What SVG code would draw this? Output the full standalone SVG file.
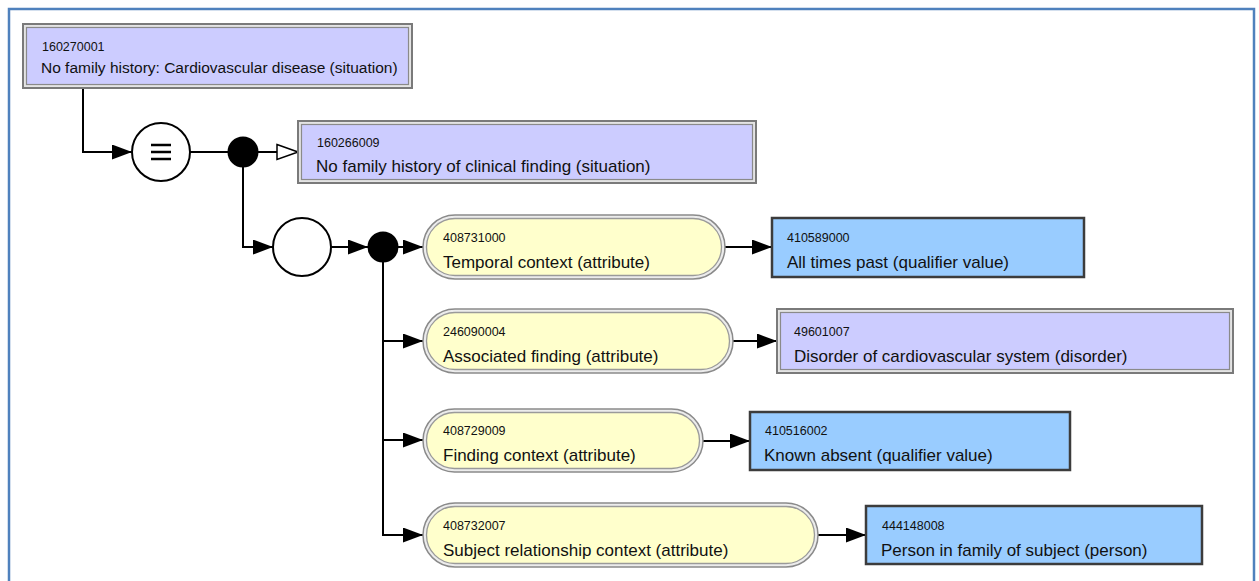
<svg xmlns="http://www.w3.org/2000/svg" width="1259" height="581" viewBox="0 0 1259 581">
<defs>
<style>
.num{font-family:"Liberation Sans",Arial,sans-serif;font-size:12.5px;fill:#111}
.nm{font-family:"Liberation Sans",Arial,sans-serif;font-size:17px;fill:#111}
.con{fill:none;stroke:#000;stroke-width:2}
.defo{fill:#e4e4e4;stroke:#7a7a7a;stroke-width:2}
.defi{fill:#ccccff;stroke:#8a8a8a;stroke-width:1.2}
.prim{fill:#99ccff;stroke:#3c3c3c;stroke-width:2.5}
.pillo{fill:#ececec;stroke:#8a8a8a;stroke-width:1.5}
.pilli{fill:#ffffcc;stroke:#9a9a9a;stroke-width:1.3}
</style>
<marker id="arr" markerUnits="userSpaceOnUse" markerWidth="20" markerHeight="15" refX="20" refY="7.5" orient="auto">
<path d="M0,0 L20,7.5 L0,15 z" fill="#000"/>
</marker>
<marker id="isa" markerUnits="userSpaceOnUse" markerWidth="23" markerHeight="18" refX="22" refY="9" orient="auto">
<path d="M1,1.5 L22,9 L1,16.5 z" fill="#fff" stroke="#000" stroke-width="1.5"/>
</marker>
</defs>
<rect x="0" y="0" width="1259" height="581" fill="#fff"/>
<rect x="9" y="9" width="1245" height="600" fill="#fff" stroke="#4f81bd" stroke-width="2.5"/>

<g id="connectors">
<path class="con" d="M83,88 V152 H132" marker-end="url(#arr)"/>
<path class="con" d="M190,152 H228" stroke-width="1.5"/>
<path class="con" d="M258,152 H298" marker-end="url(#isa)"/>
<path class="con" d="M243,167 V247 H273" marker-end="url(#arr)"/>
<path class="con" d="M331,247 H368" marker-end="url(#arr)"/>
<path class="con" d="M398,247 H423" marker-end="url(#arr)"/>
<path class="con" d="M383,262 V341 H423" marker-end="url(#arr)"/>
<path class="con" d="M383,341 V440 H423" marker-end="url(#arr)"/>
<path class="con" d="M383,440 V535 H423" marker-end="url(#arr)"/>
<path class="con" d="M725,247 H772" marker-end="url(#arr)"/>
<path class="con" d="M733,341 H777" marker-end="url(#arr)"/>
<path class="con" d="M703,441 H750" marker-end="url(#arr)"/>
<path class="con" d="M818,535 H866" marker-end="url(#arr)"/>
</g>

<g id="n160270001">
<rect class="defo" x="23" y="24" width="389" height="64"/>
<rect class="defi" x="26.5" y="27.5" width="382" height="57"/>
<text class="num" x="42" y="51">160270001</text>
<text class="nm" x="41" y="73" style="font-size:15.5px">No family history: Cardiovascular disease (situation)</text>
</g>

<g id="equivalence">
<circle cx="161" cy="152" r="29" fill="#fff" stroke="#000" stroke-width="2"/>
<path d="M151,145 H171 M151,152 H171 M151,159 H171" stroke="#000" stroke-width="2.5" fill="none"/>
</g>

<g id="conjunction1">
<circle cx="243" cy="152" r="15.5" fill="#000"/>
</g>

<g id="n160266009">
<rect class="defo" x="298" y="121" width="458" height="62"/>
<rect class="defi" x="301.5" y="124.5" width="451" height="55"/>
<text class="num" x="317" y="147">160266009</text>
<text class="nm" x="316" y="172">No family history of clinical finding (situation)</text>
</g>

<g id="rolegroup">
<circle cx="302" cy="247" r="29" fill="#fff" stroke="#000" stroke-width="2"/>
</g>

<g id="conjunction2">
<circle cx="383" cy="247" r="15.5" fill="#000"/>
</g>

<g id="a408731000">
<rect class="pillo" x="423" y="215" width="302" height="64" rx="32"/>
<rect class="pilli" x="426.5" y="218.5" width="295" height="57" rx="28.5"/>
<text class="num" x="443" y="242">408731000</text>
<text class="nm" x="443" y="268">Temporal context (attribute)</text>
</g>

<g id="v410589000">
<rect class="prim" x="772" y="218" width="312" height="59"/>
<text class="num" x="787" y="242">410589000</text>
<text class="nm" x="787" y="268">All times past (qualifier value)</text>
</g>

<g id="a246090004">
<rect class="pillo" x="423" y="309" width="310" height="64" rx="32"/>
<rect class="pilli" x="426.5" y="312.5" width="303" height="57" rx="28.5"/>
<text class="num" x="443" y="336">246090004</text>
<text class="nm" x="443" y="362">Associated finding (attribute)</text>
</g>

<g id="v49601007">
<rect class="defo" x="777" y="309" width="456" height="64"/>
<rect class="defi" x="780.5" y="312.5" width="449" height="57"/>
<text class="num" x="794" y="336">49601007</text>
<text class="nm" x="794" y="362">Disorder of cardiovascular system (disorder)</text>
</g>

<g id="a408729009">
<rect class="pillo" x="423" y="409" width="280" height="63" rx="31.5"/>
<rect class="pilli" x="426.5" y="412.5" width="273" height="56" rx="28"/>
<text class="num" x="443" y="435">408729009</text>
<text class="nm" x="443" y="461">Finding context (attribute)</text>
</g>

<g id="v410516002">
<rect class="prim" x="750" y="412" width="320" height="58"/>
<text class="num" x="765" y="435">410516002</text>
<text class="nm" x="764" y="461">Known absent (qualifier value)</text>
</g>

<g id="a408732007">
<rect class="pillo" x="423" y="503" width="395" height="64" rx="32"/>
<rect class="pilli" x="426.5" y="506.5" width="388" height="57" rx="28.5"/>
<text class="num" x="443" y="530">408732007</text>
<text class="nm" x="443" y="556">Subject relationship context (attribute)</text>
</g>

<g id="v444148008">
<rect class="prim" x="866" y="506" width="336" height="58"/>
<text class="num" x="882" y="530">444148008</text>
<text class="nm" x="881" y="556">Person in family of subject (person)</text>
</g>
</svg>
